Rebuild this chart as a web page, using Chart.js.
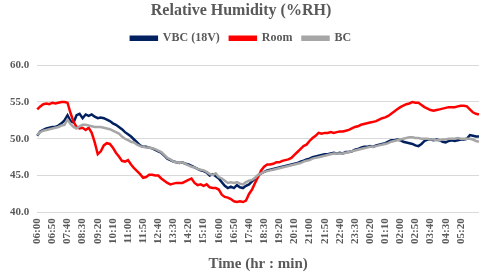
<!DOCTYPE html>
<html>
<head>
<meta charset="utf-8">
<script src="https://cdn.jsdelivr.net/npm/chart.js@4"></script>
<style>
  html, body { margin: 0; padding: 0; background: #fff; }
  #wrap { width: 480px; height: 273px; }
</style>
</head>
<body>
<div id="wrap"><canvas id="myChart" width="480" height="273"></canvas></div>
<script>
// readings every 10 minutes, from 06:00 to 06:20 next day
const startMinutes = 6 * 60
const stepMinutes = 10

// labels that are printed on the x axis (every 5th reading)
const tickLabels = ['06:00','06:50','07:40','08:30','09:20','10:10','11:00','11:50','12:40','13:30',
  '14:20','15:10','16:00','16:50','17:40','18:30','19:20','20:10','21:00','21:50','22:40','23:30',
  '00:20','01:10','02:00','02:50','03:40','04:30','05:20']

const vbc = [50.4,51.0,51.2,51.4,51.5,51.6,51.6,51.8,52.1,52.5,
  53.2,52.4,52.2,53.2,53.4,52.8,53.3,53.1,53.3,53.0,
  52.8,52.9,52.8,52.6,52.4,52.1,51.9,51.6,51.3,50.9,
  50.6,50.3,49.9,49.5,49.1,48.9,48.9,48.8,48.7,48.5,
  48.3,48.1,47.7,47.3,47.1,46.9,46.8,46.7,46.8,46.6,
  46.5,46.3,46.1,45.9,45.7,45.6,45.4,45.0,45.2,44.9,
  44.6,44.1,43.6,43.3,43.5,43.3,43.7,43.4,43.3,43.6,
  43.8,44.2,44.6,45.0,45.3,45.5,45.7,45.8,45.9,46.0,
  46.1,46.2,46.3,46.4,46.5,46.6,46.7,46.9,47.0,47.2,
  47.3,47.5,47.6,47.7,47.8,47.9,47.9,48.0,48.1,48.0,
  48.1,48.0,48.2,48.2,48.3,48.5,48.6,48.8,48.9,48.9,
  49.0,48.9,49.1,49.2,49.3,49.4,49.6,49.8,49.8,49.9,
  49.8,49.6,49.5,49.4,49.3,49.1,49.0,49.3,49.7,49.9,
  49.9,49.8,49.9,49.8,49.6,49.5,49.7,49.8,49.7,49.8,
  49.9,49.9,50.0,50.5,50.4,50.3,50.3]

const room = [54.0,54.4,54.7,54.8,54.7,54.9,54.8,54.9,55.0,55.0,
  54.9,53.5,52.3,51.6,51.4,51.5,51.2,51.5,50.8,49.5,
  47.9,48.3,49.1,49.4,49.3,48.8,48.1,47.6,47.0,46.9,
  47.1,46.5,46.0,45.6,45.2,44.7,44.8,45.1,45.1,45.0,
  45.0,44.6,44.3,44.0,43.8,43.9,44.0,44.0,44.0,44.2,
  44.4,44.6,44.0,43.7,43.8,43.6,43.8,43.4,43.3,43.3,
  43.1,42.4,42.1,42.0,41.8,41.5,41.4,41.5,41.4,41.6,
  42.5,43.1,44.0,44.8,45.7,46.2,46.5,46.5,46.6,46.8,
  46.8,47.0,47.1,47.2,47.4,47.8,48.2,48.6,49.0,49.2,
  49.7,50.1,50.4,50.8,50.7,50.8,50.8,50.9,50.8,50.9,
  51.0,51.0,51.1,51.2,51.4,51.6,51.7,51.9,52.0,52.1,
  52.2,52.3,52.4,52.6,52.8,52.9,53.1,53.4,53.7,54.0,
  54.3,54.5,54.7,54.8,55.0,54.9,54.9,54.6,54.3,54.1,
  53.9,53.8,53.9,54.0,54.1,54.2,54.3,54.3,54.3,54.4,
  54.5,54.5,54.4,54.0,53.6,53.4,53.3]

const bc = [50.5,50.9,51.1,51.2,51.3,51.4,51.5,51.6,51.8,51.9,
  52.6,52.0,51.6,51.4,51.7,51.9,51.9,51.8,51.7,51.6,
  51.6,51.6,51.5,51.4,51.3,51.1,50.9,50.7,50.3,50.0,
  49.8,49.6,49.5,49.2,49.0,48.9,48.8,48.8,48.7,48.6,
  48.4,48.2,47.8,47.4,47.2,46.9,46.8,46.7,46.8,46.6,
  46.4,46.2,46.1,45.9,45.8,45.7,45.5,45.2,45.1,45.3,
  44.8,44.6,44.3,44.0,44.1,44.0,44.1,43.9,43.8,44.1,
  44.3,44.4,44.7,45.1,45.3,45.5,45.6,45.7,45.8,45.9,
  46.0,46.1,46.2,46.3,46.4,46.5,46.6,46.7,46.9,47.0,
  47.1,47.3,47.4,47.5,47.6,47.7,47.8,47.9,48.0,48.0,
  48.0,48.0,48.1,48.2,48.3,48.4,48.5,48.6,48.7,48.8,
  48.9,48.9,49.0,49.1,49.2,49.3,49.4,49.6,49.7,49.8,
  49.9,50.0,50.1,50.2,50.2,50.1,50.1,50.0,50.0,50.0,
  49.9,49.9,49.8,49.8,49.9,49.9,50.0,50.0,50.0,50.1,
  50.0,50.0,50.0,50.0,49.9,49.7,49.6]

const labels = []
for (let i = 0; i < vbc.length; i++) {
  const m = (startMinutes + i * stepMinutes) % 1440
  labels.push(String(Math.floor(m / 60)).padStart(2, '0') + ':' + String(m % 60).padStart(2, '0'))
}

const serif = 'Liberation Serif, Times New Roman, serif'
const grey = '#595959'

// extra room under the legend
const legendGap = {
  id: 'legendGap',
  beforeInit(chart) {
    const fit = chart.legend.fit
    chart.legend.fit = function() {
      fit.bind(chart.legend)()
      this.height += 11
    }
  }
}

function createChart(){
  const ctx = document.getElementById('myChart').getContext('2d')
  new Chart(ctx, {
    type: 'line',
    data: {
      labels: labels,
      datasets: [
        { label: 'VBC (18V)', data: vbc, borderColor: '#002060', backgroundColor: '#002060', order: 3 },
        { label: 'Room', data: room, borderColor: '#ff0000', backgroundColor: '#ff0000', order: 2 },
        { label: 'BC', data: bc, borderColor: '#a6a6a6', backgroundColor: '#a6a6a6', order: 1 }
      ]
    },
    plugins: [legendGap],
    options: {
      responsive: false,
      animation: false,
      layout: { padding: { left: 2, right: 0, top: 0, bottom: 0 } },
      elements: {
        point: { radius: 0 },
        line: { borderWidth: 2.5, tension: 0 }
      },
      plugins: {
        title: {
          display: true,
          text: 'Relative Humidity (%RH)',
          color: grey,
          font: { family: serif, size: 16, weight: 'bold' },
          padding: { top: 1, bottom: 2 }
        },
        legend: {
          labels: {
            color: grey,
            font: { family: serif, size: 12, weight: 'bold' },
            boxWidth: 26,
            boxHeight: 3,
            padding: 10,
            sort: (a, b) => a.datasetIndex - b.datasetIndex
          }
        },
        tooltip: { enabled: false }
      },
      scales: {
        x: {
          grid: { display: false, drawTicks: false },
          border: { display: false },
          ticks: {
            color: grey,
            font: { family: serif, size: 11, weight: 'bold' },
            autoSkip: false,
            minRotation: 90,
            maxRotation: 90,
            padding: 6,
            callback: function(v, i) {
              return i % 5 === 0 && i / 5 < tickLabels.length ? tickLabels[i / 5] : null
            }
          },
          title: {
            display: true,
            text: 'Time (hr : min)',
            color: grey,
            font: { family: serif, size: 15, weight: 'bold' },
            padding: { top: 5, bottom: 0 }
          }
        },
        y: {
          min: 40,
          max: 60,
          grid: { color: '#d9d9d9', drawTicks: false },
          border: { display: false },
          ticks: {
            stepSize: 5,
            color: grey,
            font: { family: serif, size: 11, weight: 'bold' },
            padding: 8,
            callback: v => v.toFixed(1)
          }
        }
      }
    }
  })
}

createChart()
</script>
</body>
</html>
